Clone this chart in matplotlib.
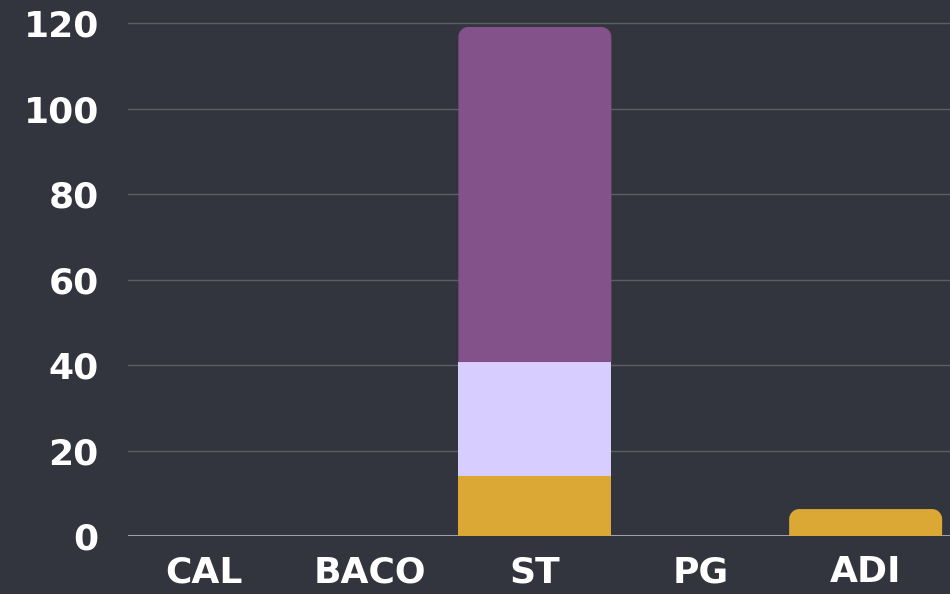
import matplotlib
matplotlib.use("Agg")
import matplotlib.pyplot as plt
from matplotlib.path import Path
from matplotlib.patches import PathPatch

# --- dados
categorias = ["CAL", "BACO", "ST", "PG", "ADI"]
serie_ouro = [0, 0, 14.0, 0, 6.3]
serie_lilas = [0, 0, 26.7, 0, 0]
serie_roxo = [0, 0, 78.4, 0, 0]

cores = ["#dba835", "#d7cdfe", "#83528a"]
fundo = "#32353d"

plt.rcParams['font.family'] = ['DejaVu Sans']

fig = plt.figure(figsize=(9.5, 5.94), dpi=100, facecolor=fundo)
ax = fig.add_axes([128 / 950, 58 / 594, 1 - 128 / 950, 536 / 594])
ax.set_facecolor(fundo)

x = range(len(categorias))
largura = 0.925
base = [0] * len(categorias)
barras = []
for valores, cor in zip([serie_ouro, serie_lilas, serie_roxo], cores):
    b = ax.bar(x, valores, largura, bottom=base, color=cor, linewidth=0, zorder=3)
    barras.append(b)
    base = [a + v for a, v in zip(base, valores)]

ax.set_xlim(-0.46, 4.51)
ax.set_ylim(0, 125.4)

# arredondar o topo do segmento mais alto de cada barra
raio_px = 10
inv = ax.transData.inverted()
p0 = inv.transform((0, 0))
p1 = inv.transform((raio_px, raio_px))
rx, ry = p1[0] - p0[0], p1[1] - p0[1]
for i in x:
    topo = None
    for b in barras:
        if b[i].get_height() > 0:
            topo = b[i]
    if topo is None:
        continue
    x0, y0 = topo.get_x(), topo.get_y()
    w, h = topo.get_width(), topo.get_height()
    x1, y1 = x0 + w, y0 + h
    r_y = min(ry, h)
    k = 0.5523
    verts = [(x0, y0), (x0, y1 - r_y),
             (x0, y1 - r_y + k * r_y), (x0 + rx - k * rx, y1), (x0 + rx, y1),
             (x1 - rx, y1),
             (x1 - rx + k * rx, y1), (x1, y1 - r_y + k * r_y), (x1, y1 - r_y),
             (x1, y0), (x0, y0)]
    codes = [Path.MOVETO, Path.LINETO,
             Path.CURVE4, Path.CURVE4, Path.CURVE4,
             Path.LINETO,
             Path.CURVE4, Path.CURVE4, Path.CURVE4,
             Path.LINETO, Path.CLOSEPOLY]
    cor = topo.get_facecolor()
    topo.remove()
    ax.add_patch(PathPatch(Path(verts, codes), facecolor=cor, linewidth=0, zorder=3))

ax.set_yticks(range(0, 121, 20))
ax.yaxis.grid(True, color="#5b5e64", linewidth=1, zorder=0)
ax.axhline(0, color="#b4b4b4", linewidth=1.2, zorder=2)

ax.set_xticks(list(x))
ax.set_xticklabels(categorias)
ax.tick_params(axis='both', length=0, colors="white", labelsize=26)
ax.tick_params(axis='y', pad=21)
ax.tick_params(axis='x', pad=14)
for lbl in ax.get_xticklabels() + ax.get_yticklabels():
    lbl.set_fontweight('bold')

for s in ax.spines.values():
    s.set_visible(False)

fig.savefig("out.png", dpi=100, facecolor=fundo)
